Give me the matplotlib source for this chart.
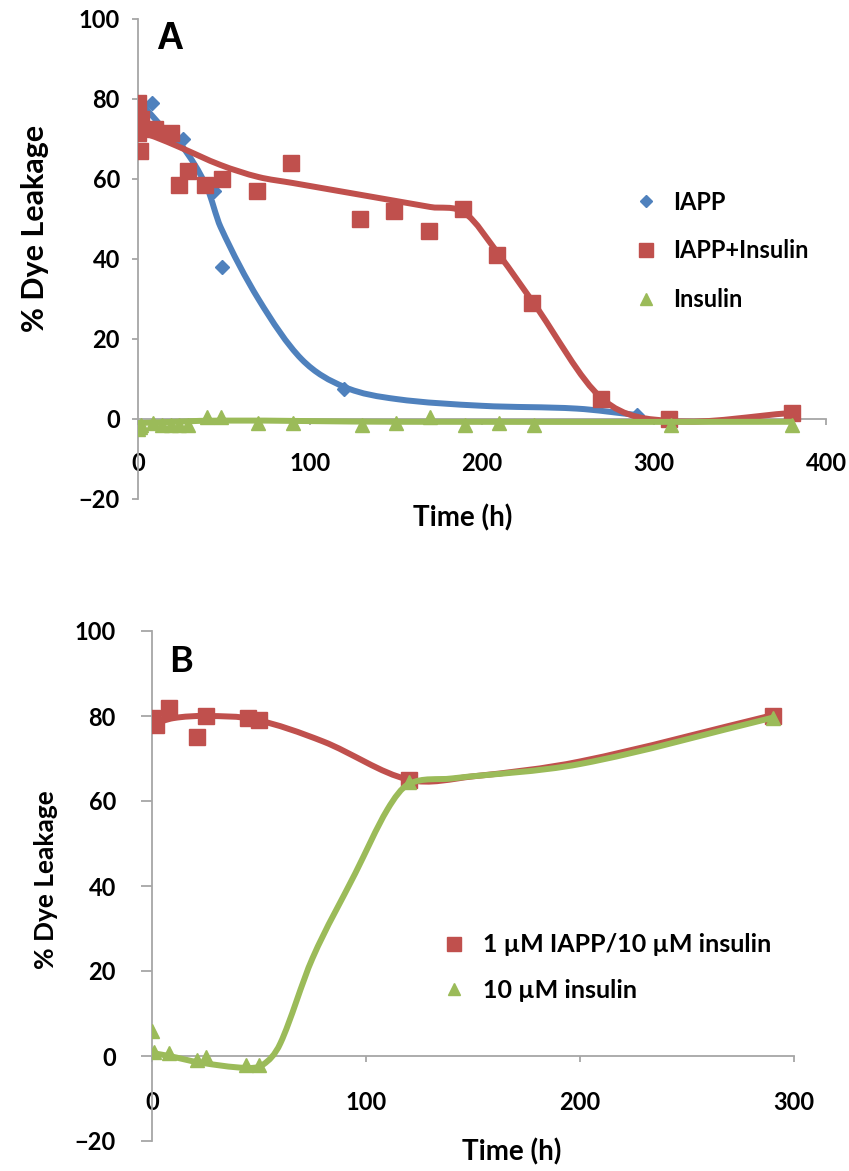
import matplotlib
matplotlib.use("Agg")
import matplotlib.pyplot as plt
from matplotlib.path import Path
from matplotlib.patches import PathPatch

# ---------------- data: panel A ----------------
iapp_t = [0, 8, 26, 44, 49, 120, 290]
iapp_y = [75, 79, 70, 57, 38, 7.5, 1]

iapp_ins_t = [0, 2, 0, 1, 10, 19, 29, 24, 39, 49, 69, 89, 129, 149, 169, 189, 209, 229, 269, 309, 380]
iapp_ins_y = [79, 75, 71.5, 67, 72.5, 71.5, 62, 58.5, 58.5, 60, 57, 64, 50, 52, 47, 52.5, 41, 29, 5, 0, 1.5]

ins_t = [0, 1, 2, 9, 14, 19, 24, 29, 40, 48, 70, 90, 130, 150, 170, 190, 210, 230, 310, 380]
ins_y = [-2.5, -2, -1.5, -1, -1.5, -1.5, -1.5, -1.5, 0.5, 0.5, -1, -1, -1.5, -1, 0.5, -1.5, -1, -1.5, -1.5, -1.5]

# smoothed trend lines (knots)
iapp_fit_t = [0, 14, 26, 40, 48, 70, 95, 120, 150, 200, 255, 290]
iapp_fit_y = [80, 73, 68, 58, 48, 30, 15, 8, 5, 3.3, 2.6, 1]
iapp_ins_fit_t = [0, 10, 24, 48, 70, 90, 130, 150, 170, 190, 210, 230, 270, 310, 380]
iapp_ins_fit_y = [72, 70.5, 68, 63.5, 60.5, 59, 56, 54.5, 53, 51.5, 41, 29, 5, -0.5, 1.5]
ins_fit_t = [0, 48, 150, 380]
ins_fit_y = [-1, -0.4, -0.7, -0.7]

# ---------------- data: panel B ----------------
b_mix_t = [0, 2, 8, 21, 25, 45, 50, 120, 290]
b_mix_y = [79.5, 78, 82, 75, 80, 79.5, 79, 65, 80]
b_ins_t = [0, 1, 8, 21, 25, 44, 50, 120, 290]
b_ins_y = [6, 1, 0.7, -1, -0.3, -2, -2, 64.5, 79.5]

b_mix_fit_t = [0, 10, 25, 48, 80, 120, 150, 200, 290]
b_mix_fit_y = [78, 79.5, 80, 79.2, 74, 65, 65.8, 69.3, 80.2]
b_ins_fit_t = [0, 8, 22, 44, 52, 60, 75, 95, 110, 120, 140, 200, 290]
b_ins_fit_y = [0.7, 0, -1.5, -2.8, -2, 3, 23, 43, 58, 64, 65.3, 68.7, 79.6]

labels_a = ["IAPP", "IAPP+Insulin", "Insulin"]
labels_b = ["1 \u00b5M IAPP/10 \u00b5M insulin", "10 \u00b5M insulin"]

BLUE, RED, GREEN = "#4F81BD", "#C0504D", "#9BBB59"
AXC = "#A6A6A6"
FONT = ["Lato", "DejaVu Sans"]
LW = 4.3

W, H = 849, 1171
fig = plt.figure(figsize=(W / 100, H / 100), dpi=100)


def rect(l, t, r, b):
    return [l / W, 1 - b / H, (r - l) / W, (b - t) / H]


def smooth(ax, xs, ys, color, lw, z):
    n = len(xs)
    m = []
    for i in range(n):
        if i == 0:
            m.append((ys[1] - ys[0]) / (xs[1] - xs[0]))
        elif i == n - 1:
            m.append((ys[-1] - ys[-2]) / (xs[-1] - xs[-2]))
        else:
            m.append((ys[i + 1] - ys[i - 1]) / (xs[i + 1] - xs[i - 1]))
    verts = [(xs[0], ys[0])]
    codes = [Path.MOVETO]
    for i in range(n - 1):
        h = xs[i + 1] - xs[i]
        verts += [(xs[i] + h / 3, ys[i] + m[i] * h / 3),
                  (xs[i + 1] - h / 3, ys[i + 1] - m[i + 1] * h / 3),
                  (xs[i + 1], ys[i + 1])]
        codes += [Path.CURVE4] * 3
    patch = PathPatch(Path(verts, codes), facecolor="none", edgecolor=color,
                      lw=lw, capstyle="round", joinstyle="round", zorder=z)
    ax.add_patch(patch)


def style(ax, xmax, xstep, xpad, ytick_len, ypad):
    ax.set_ylim(-20, 100)
    ax.set_xlim(0, xmax)
    ax.set_yticks(range(-20, 101, 20))
    ax.set_xticks(range(0, xmax + 1, xstep))
    for s in ("top", "right"):
        ax.spines[s].set_visible(False)
    ax.spines["bottom"].set_position(("data", 0))
    for s in ("left", "bottom"):
        ax.spines[s].set_color(AXC)
        ax.spines[s].set_linewidth(1.3)
    ax.tick_params(axis="x", direction="out", length=4, width=1.3, color=AXC, pad=xpad)
    ax.tick_params(axis="y", direction="out", length=ytick_len, width=1.3, color=AXC, pad=ypad)
    for lab in ax.get_xticklabels() + ax.get_yticklabels():
        lab.set_fontfamily(FONT)
        lab.set_fontweight("bold")
        lab.set_fontsize(17)
    ax.set_facecolor("none")


# ---------------- panel A ----------------
axA = fig.add_axes(rect(138, 19, 826, 499))
style(axA, 400, 100, 20, 4, 9)
smooth(axA, iapp_fit_t, iapp_fit_y, BLUE, LW, 2)
smooth(axA, iapp_ins_fit_t, iapp_ins_fit_y, RED, LW, 3)
smooth(axA, ins_fit_t, ins_fit_y, GREEN, LW, 4)
hA1, = axA.plot(iapp_t, iapp_y, "D", color=BLUE, ms=7.5, mec=BLUE, ls="none", zorder=2.5)
hA2, = axA.plot(iapp_ins_t, iapp_ins_y, "s", color=RED, ms=12, mec=RED, ls="none", zorder=3.5)
hA3, = axA.plot(ins_t, ins_y, "^", color=GREEN, ms=10, mec=GREEN, ls="none", zorder=4.5)
legA = axA.legend([hA1, hA2, hA3], labels_a, loc="center left",
                  bbox_to_anchor=(637 / W, 1 - 251 / H), bbox_transform=fig.transFigure,
                  frameon=False, handlelength=0.8, handletextpad=0.75, labelspacing=1.1,
                  borderpad=0, borderaxespad=0, markerscale=0.85,
                  prop={"family": FONT, "weight": "bold", "size": 17})

fig.text(35 / W, 1 - 228 / H, "% Dye Leakage", rotation=90, ha="center", va="center",
         family=FONT, weight="bold", fontsize=22)
fig.text(463 / W, 1 - 518 / H, "Time (h)", ha="center", va="center",
         family=FONT, weight="bold", fontsize=20)
fig.text(170 / W, 1 - 39 / H, "A", ha="center", va="center",
         family=["Liberation Sans", "DejaVu Sans"], weight="bold", fontsize=27)

# ---------------- panel B ----------------
axB = fig.add_axes(rect(152, 631, 794, 1141))
style(axB, 300, 100, 21, 8, 18)
smooth(axB, b_mix_fit_t, b_mix_fit_y, RED, LW, 3)
smooth(axB, b_ins_fit_t, b_ins_fit_y, GREEN, LW, 4)
hB1, = axB.plot(b_mix_t, b_mix_y, "s", color=RED, ms=12, mec=RED, ls="none", zorder=3.5)
hB2, = axB.plot(b_ins_t, b_ins_y, "^", color=GREEN, ms=10, mec=GREEN, ls="none", zorder=4.5)
legB = axB.legend([hB1, hB2], labels_b, loc="center left",
                  bbox_to_anchor=(444 / W, 1 - 967.5 / H), bbox_transform=fig.transFigure,
                  frameon=False, handlelength=0.8, handletextpad=0.75, labelspacing=0.9,
                  borderpad=0, borderaxespad=0, markerscale=0.85,
                  prop={"family": FONT, "weight": "bold", "size": 18})

fig.text(46 / W, 1 - 880 / H, "% Dye Leakage", rotation=90, ha="center", va="center",
         family=FONT, weight="bold", fontsize=19)
fig.text(512 / W, 1 - 1152 / H, "Time (h)", ha="center", va="center",
         family=FONT, weight="bold", fontsize=20)
fig.text(181 / W, 1 - 661 / H, "B", ha="center", va="center",
         family=FONT, weight="bold", fontsize=26)

fig.savefig("out.png", dpi=100, facecolor="white")
